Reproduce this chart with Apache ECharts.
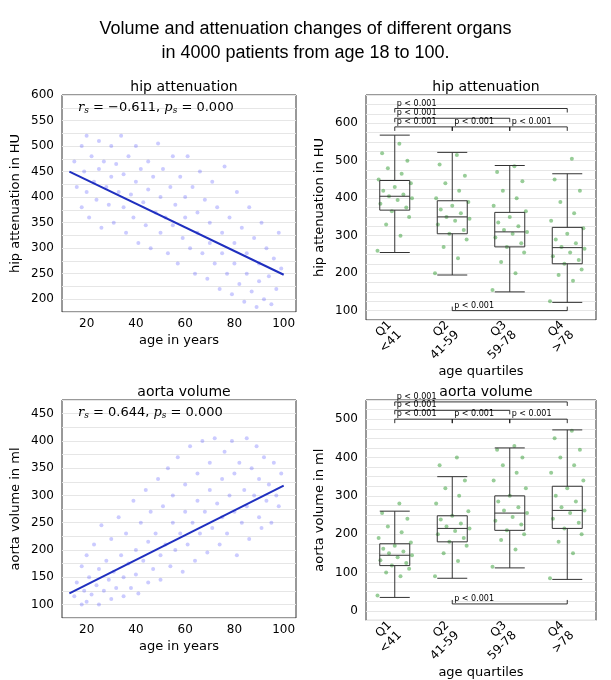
<!DOCTYPE html>
<html><head><meta charset="utf-8">
<script src="https://cdn.jsdelivr.net/npm/echarts@6/dist/echarts.min.js"></script>
<style>html,body{margin:0;padding:0;background:#fff}#c{width:611px;height:680px}</style>
</head><body><div id="c"></div>
<script>
// hand-read samples from the scatter clouds
var hipScatter = [[15,470],[16,420],[18,500],[18,380],[19,450],[20,520],[20,410],[21,360],[22,480],[23,430],[24,395],[25,510],[25,455],[26,340],[27,470],[28,420],[29,385],[30,500],[30,440],[31,350],[32,465],[33,410],[34,520],[35,380],[35,445],[36,330],[37,480],[38,405],[39,360],[40,430],[40,500],[41,310],[42,455],[43,390],[44,345],[45,470],[45,415],[46,300],[47,440],[48,370],[49,505],[50,400],[50,330],[51,455],[52,360],[53,290],[54,420],[55,480],[55,345],[56,385],[57,270],[58,440],[59,320],[60,400],[60,360],[61,480],[62,300],[63,420],[64,250],[65,370],[65,330],[66,450],[67,290],[68,395],[69,240],[70,350],[70,310],[71,430],[72,270],[73,380],[74,220],[75,330],[75,290],[76,460],[77,250],[78,360],[79,210],[80,310],[80,270],[81,410],[82,230],[83,340],[84,195],[85,290],[85,250],[86,380],[87,215],[88,320],[89,185],[90,270],[90,235],[91,350],[92,200],[93,300],[94,245],[95,190],[96,280],[97,220],[98,330],[99,260]];
var aortaScatter = [[15,115],[16,140],[18,100],[18,170],[19,125],[20,105],[20,190],[21,150],[22,118],[23,210],[24,135],[25,100],[25,165],[26,245],[27,125],[28,180],[29,145],[30,110],[30,220],[31,160],[32,130],[33,260],[34,190],[35,115],[35,150],[36,230],[37,175],[38,130],[39,290],[40,200],[40,155],[41,120],[42,250],[43,180],[44,310],[45,140],[45,215],[46,270],[47,165],[48,230],[49,330],[50,190],[50,145],[51,280],[52,210],[53,350],[54,170],[55,250],[55,300],[56,200],[57,370],[58,230],[59,160],[60,270],[60,320],[61,210],[62,390],[63,250],[64,180],[65,290],[65,340],[66,230],[67,400],[68,270],[69,195],[70,310],[70,360],[71,240],[72,405],[73,285],[74,210],[75,330],[75,260],[76,380],[77,230],[78,300],[79,400],[80,270],[80,340],[81,190],[82,360],[83,250],[84,310],[85,405],[85,280],[86,220],[87,350],[88,300],[89,390],[90,260],[90,330],[91,240],[92,370],[93,290],[94,320],[95,250],[96,360],[97,300],[98,280],[99,340]];
var hipFit = [[13,450],[100,248]];
var aortaFit = [[13,120],[100,318]];
var quartiles = ['Q1\n<41','Q2\n41-59','Q3\n59-78','Q4\n>78'];
// [min, Q1, median, Q3, max]
var hipBox = [[255,368,405,447,568],[195,305,350,393,522],[150,270,310,362,487],[122,225,268,322,465]];
var aortaBox = [[35,118,145,175,260],[85,180,215,248,350],[112,210,255,300,425],[82,215,262,325,472]];
var hipDots = [
 [260,300,330,350,365,375,385,395,400,405,410,420,430,440,450,465,480,500,520,545],
 [200,240,270,290,305,315,330,340,345,350,360,370,380,390,400,420,440,460,490,515],
 [155,200,230,255,270,280,295,305,310,315,325,335,350,365,380,400,420,445,470,485],
 [125,180,195,210,225,235,245,255,265,270,280,290,305,320,340,360,390,420,450,505]];
var aortaDots = [
 [40,90,100,110,118,125,132,140,145,150,155,162,170,178,190,205,220,240,255,280],
 [90,130,150,170,180,190,200,208,215,220,228,238,248,260,280,300,320,340,380,400],
 [115,160,185,200,210,225,235,245,255,262,270,285,300,320,340,360,380,400,420,430],
 [85,150,180,200,215,230,240,255,262,270,285,300,320,340,360,380,400,420,450,470]];
var jitter = [-0.3,0.1,-0.15,0.25,-0.05,0.2,-0.25,0.05,0.3,-0.1,0.15,-0.2,0.0,0.28,-0.28,0.12,-0.12,0.22,-0.22,0.08];
// brackets: [from, to, y]
var hipBrackets = [[0,3,639],[0,2,613],[0,1,590],[1,2,590],[2,3,590]];
var hipBottom = [1,3,100];
var aortaBrackets = [[0,3,545],[0,2,523],[0,1,500],[1,2,500],[2,3,500]];
var aortaBottom = [1,3,18];

var F = 'DejaVu Sans';
var chart = echarts.init(document.getElementById('c'));
function dots(vals){ var o=[]; vals.forEach(function(a,q){a.forEach(function(v,i){o.push([q+jitter[i%jitter.length],v]);});}); return o; }
function yAx(gi,min,max,step,lab,name){
  return {type:'value',gridIndex:gi,min:min,max:max,interval:25,name:name,nameLocation:'middle',nameGap:40,
    nameTextStyle:{fontFamily:F,fontSize:13,color:'#000'},
    axisLine:{show:false},axisTick:{show:false},
    axisLabel:{fontFamily:F,fontSize:12,color:'#000',formatter:function(v){return v%lab===0&&v>=step?v:'';}},
    splitLine:{show:true,interval:function(i,v){return v%lab===0;},lineStyle:{color:'#e6e6e6'}}};
}
var grids=[{left:62,top:95,width:234,height:217},{left:366,top:95,width:230,height:225},
           {left:62,top:400,width:234,height:218},{left:366,top:400,width:230,height:222}];
grids.forEach(function(g){g.show=true;g.borderColor='#333';g.borderWidth=1;});
var valX=function(gi){return {type:'value',gridIndex:gi,min:10,max:105,interval:5,name:'age in years',nameLocation:'middle',nameGap:22,
   nameTextStyle:{fontFamily:F,fontSize:13,color:'#000'},axisLine:{show:false},axisTick:{show:false},
   axisLabel:{fontFamily:F,fontSize:12,color:'#000',margin:6,formatter:function(v){return v%20===0?v:'';}},
   splitLine:{show:false}};};
var catX=function(gi){return {type:'category',gridIndex:gi,data:quartiles,name:'age quartiles',nameLocation:'middle',nameGap:40,
   nameTextStyle:{fontFamily:F,fontSize:13,color:'#000'},axisLine:{show:false},axisTick:{show:false},
   axisLabel:{fontFamily:F,fontSize:12,color:'#000',rotate:45,margin:8,lineHeight:14},splitLine:{show:false}};};
var hidX=function(gi){return {type:'value',gridIndex:gi,min:-0.5,max:3.5,show:false};};
var scat=function(xi,yi,d){return {type:'scatter',xAxisIndex:xi,yAxisIndex:yi,data:d,symbolSize:4,silent:true,itemStyle:{color:'rgba(70,70,255,0.35)'}};};
var fit=function(xi,yi,d){return {type:'line',xAxisIndex:xi,yAxisIndex:yi,data:d,symbol:'none',silent:true,lineStyle:{color:'#1f2fbf',width:2}};};
var jit=function(xi,yi,d){return {type:'scatter',xAxisIndex:xi,yAxisIndex:yi,data:dots(d),symbolSize:4,silent:true,itemStyle:{color:'rgba(40,150,40,0.6)'}};};
var box=function(xi,yi,d){return {type:'boxplot',xAxisIndex:xi,yAxisIndex:yi,data:d,boxWidth:[30,30],silent:true,z:3,
   itemStyle:{color:'rgba(0,0,0,0)',borderColor:'#333',borderWidth:1}};};
function title(t,l,top){return {text:t,left:l,top:top,textAlign:'center',textStyle:{fontFamily:F,fontSize:14,fontWeight:'normal',color:'#000'}};}
chart.setOption({
  animation:false,
  title:[{text:'Volume and attenuation changes of different organs\nin 4000 patients from age 18 to 100.',left:'center',top:12,
          textStyle:{fontFamily:'Liberation Sans',fontSize:18,fontWeight:'normal',color:'#000',lineHeight:24}},
         title('hip attenuation',179,75),title('hip attenuation',481,75),title('aorta volume',179,380),title('aorta volume',481,380)],
  grid:grids,
  xAxis:[valX(0),catX(1),hidX(1),valX(2),catX(3),hidX(3)],
  yAxis:[yAx(0,175,600,200,50,'hip attenuation in HU'),yAx(1,75,675,100,100,'hip attenuation in HU'),
         yAx(2,75,475,100,50,'aorta volume in ml'),yAx(3,-25,550,0,100,'aorta volume in ml')],
  series:[scat(0,0,hipScatter),fit(0,0,hipFit),jit(2,1,hipDots),box(1,1,hipBox),
          scat(3,2,aortaScatter),fit(3,2,aortaFit),jit(5,3,aortaDots),box(4,3,aortaBox)]
});
var gr=[];
function stat(x,y,r){gr.push({type:'text',left:x,top:y,style:{rich:{i:{fontFamily:'DejaVu Serif',fontStyle:'italic',fontSize:13},s:{fontFamily:'DejaVu Serif',fontStyle:'italic',fontSize:9,padding:[6,0,0,0]},n:{fontFamily:F,fontSize:13}},
  text:'{i|r}{s|s}{n| = '+r+', }{i|p}{s|s}{n| = 0.000}'}});}
stat(78,101,'\u22120.611');stat(78,406,'0.644');
function brackets(list,bottom,xi,yi){
  function P(x,y){return chart.convertToPixel({xAxisIndex:xi,yAxisIndex:yi},[x,y]);}
  list.concat([bottom]).forEach(function(b,k){
    var up=(k===list.length)?-1:1;
    var a=P(b[0],b[2]),c=P(b[1],b[2]);
    gr.push({type:'polyline',shape:{points:[[a[0],a[1]+4*up],[a[0],a[1]],[c[0],c[1]],[c[0],c[1]+4*up]]},style:{stroke:'#000',lineWidth:0.8,fill:null}});
    gr.push({type:'text',x:a[0]+2,y:a[1]-1,style:{text:'p < 0.001',fontFamily:F,fontSize:8,fill:'#000',verticalAlign:'bottom'}});
  });
}
brackets(hipBrackets,hipBottom,2,1);
brackets(aortaBrackets,aortaBottom,5,3);
chart.setOption({graphic:gr});
</script></body></html>
